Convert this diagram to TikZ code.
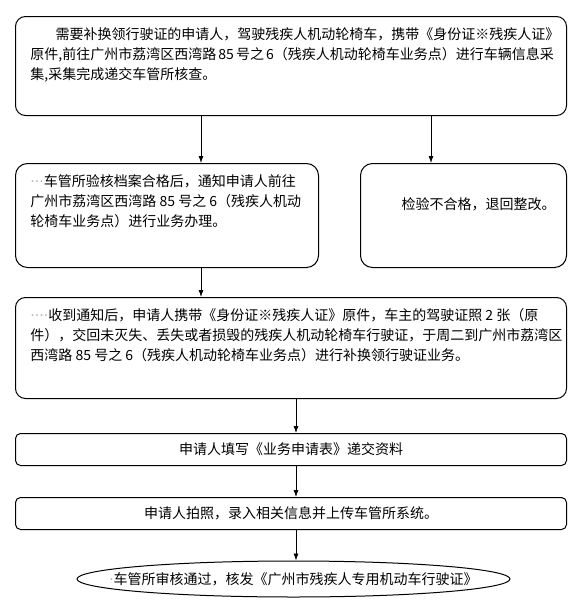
\documentclass[tikz,border=0pt]{standalone}
\usepackage{fontspec}
\setmainfont{Noto Sans CJK SC}
\newfontfamily\dotfont{DejaVu Sans}
\usetikzlibrary{shapes.geometric,calc}
\usetikzlibrary{arrows.meta}
\tikzset{>={Latex[length=7pt,width=5pt]}}
\tikzset{
  stepbox/.style={draw,black,line width=1pt,rounded corners=10pt,inner xsep=15pt,inner ysep=11pt,anchor=north west,font=\fontsize{14pt}{20pt}\selectfont},
  linebox/.style={draw,black,line width=1pt,rounded corners=5pt,minimum width=551pt,minimum height=32pt,anchor=north west,font=\fontsize{14pt}{20pt}\selectfont},
  endbox/.style={draw,black,ellipse,line width=1pt,minimum width=433pt,minimum height=36pt,inner sep=0pt,font=\fontsize{14pt}{20pt}\selectfont},
  flow/.style={->,black,line width=0.8pt}
}
\newcommand{\gdots}[1]{{\dotfont\color{gray!60}#1}}

\begin{document}
\begin{tikzpicture}[x=1pt,y=-1pt]
            \useasboundingbox (0,0) rectangle (584,608);
            % columns of the connectors
            \coordinate (lcol) at (201,0);
            \coordinate (rcol) at (431,0);
            \coordinate (mcol) at (296,0);
            % steps
            \node[stepbox] (collect) at (15,16) {\parbox[c][77pt][t]{521pt}{\raggedright
                \hspace*{25pt}需要补换领行驶证的申请人，驾驶残疾人机动轮椅车，携带《身份证※残疾人证》\\
                原件,前往广州市荔湾区西湾路~85~号之~6（残疾人机动轮椅车业务点）进行车辆信息采\\
                集,采集完成递交车管所核查。}};
            \node[stepbox,rounded corners=12pt] (pass) at (15,163) {\parbox[c][82pt][t]{273pt}{\raggedright
                \gdots{···}车管所验核档案合格后，通知申请人前往\\
                广州市荔湾区西湾路~85~号之~6（残疾人机动\\
                轮椅车业务点）进行业务办理。}};
            \node[stepbox,rounded corners=12pt] (fail) at (360,163) {\parbox[c][82pt][t]{176pt}{\raggedright
                \vspace*{23pt}\hspace*{26pt}检验不合格，退回整改。}};
            \node[stepbox] (visit) at (15,297) {\parbox[c][79pt][t]{521pt}{\raggedright
                \gdots{····}收到通知后，申请人携带《身份证※残疾人证》原件，车主的驾驶证照~2~张（原\\
                件），交回未灭失、丢失或者损毁的残疾人机动轮椅车行驶证，于周二到广州市荔湾区\\
                西湾路~85~号之~6（残疾人机动轮椅车业务点）进行补换领行驶证业务。}};
            \node[linebox] (form) at (15,433) {申请人填写《业务申请表》递交资料};
            \node[linebox] (photo) at (15,497) {申请人拍照，录入相关信息并上传车管所系统。};
            \node[endbox] (issue) at (293.5,579) {\makebox[0pt][c]{\gdots{·}车管所审核通过，核发《广州市残疾人专用机动车行驶证》}};
            % connectors
            \draw[flow] (collect.south -| lcol) -- (pass.north -| lcol);
            \draw[flow] (collect.south -| rcol) -- (fail.north -| rcol);
            \draw[flow] (pass.south -| lcol) -- (visit.north -| lcol);
            \draw[flow] (visit.south -| mcol) -- (form.north -| mcol);
            \draw[flow] (form.south -| mcol) -- (photo.north -| mcol);
            \draw[flow] (photo.south -| mcol) -- (issue.north -| mcol);
\end{tikzpicture}
\end{document}
